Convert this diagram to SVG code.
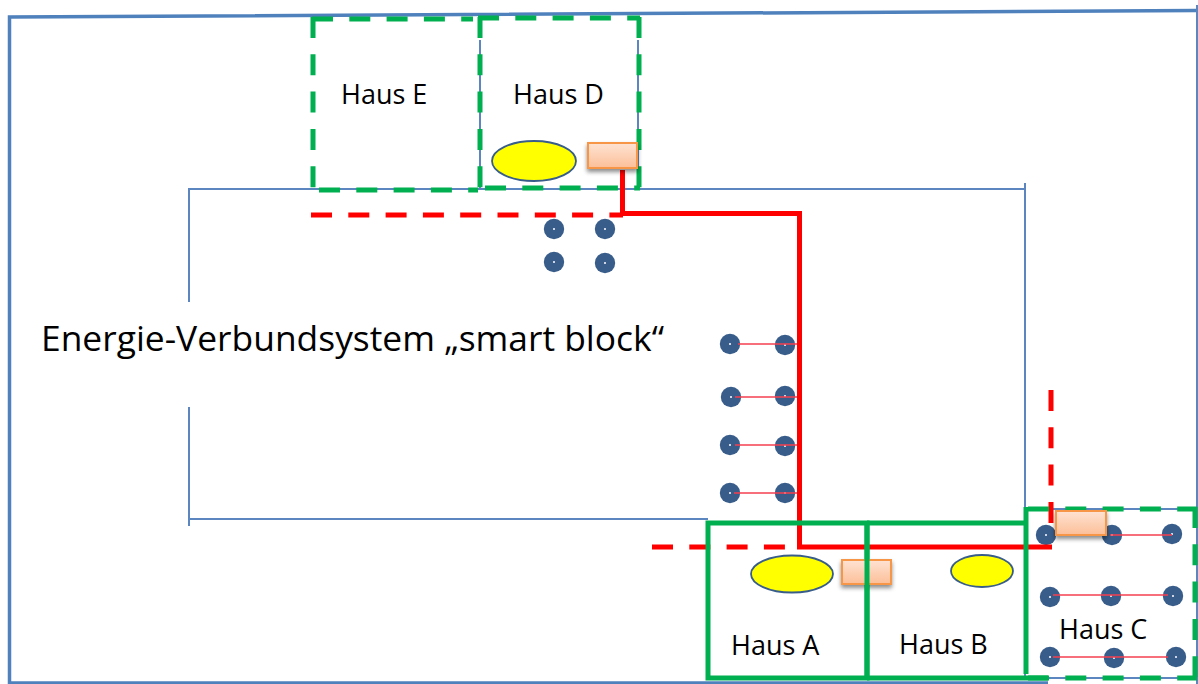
<svg xmlns="http://www.w3.org/2000/svg" width="1198" height="684" viewBox="0 0 1198 684">
<style>
text{font-family:"Open Sans","Noto Sans","Liberation Sans",sans-serif;fill:#000}
.lbl{font-size:27px}
.title{font-size:35.4px}
.outer{fill:none;stroke:#4f81bd;stroke-width:3.500}
.thin{fill:none;stroke:#5b86c0;stroke-width:2}
.gd{fill:none;stroke:#00b050;stroke-width:5;stroke-dasharray:21 16.3}
.gs{fill:none;stroke:#00b050;stroke-width:5}
.rs{fill:none;stroke:#ff0000;stroke-width:5}
.rd{fill:none;stroke:#ff0000;stroke-width:5;stroke-dasharray:21 16.3}
.rt{stroke:#f5404f;stroke-width:1.500}
.dot{fill:#385d8a}
.pin{fill:#fff}
.el{fill:#ffff00;stroke:#385d8a;stroke-width:1.800}
.box{fill:url(#og);stroke:#f79646;stroke-width:2;filter:url(#sh)}
</style>
<defs>
<linearGradient id="og" x1="0" y1="0" x2="0" y2="1"><stop offset="0" stop-color="#fee3d3"/><stop offset="1" stop-color="#fcbf98"/></linearGradient>
<filter id="sh" x="-20%" y="-30%" width="140%" height="170%"><feDropShadow dx="0" dy="3" stdDeviation="2" flood-color="#000" flood-opacity=".45"/></filter>
<g id="d"><circle class="dot" r="10.200"/><circle class="pin" r="1"/></g>
</defs>
<g id="frame">
<path class="outer" d="M9.500 684V17L1197 10.500"/>
<path class="outer" d="M9 683H1048"/>
<path class="thin" d="M1197 5V684"/>
</g>
<g id="block">
<path class="thin" d="M189 302V189H1025"/>
<path class="thin" d="M189 407V526M189 519H708"/>
<path class="thin" d="M1025 183V676"/>
<path class="thin" d="M480 40V188M638 40V188"/>
<path class="thin" d="M1026 509H1196M1026 678H1196"/>
</g>
<g id="dots">
<use href="#d" x="554" y="229"/><use href="#d" x="605" y="229"/><use href="#d" x="554" y="262"/><use href="#d" x="605" y="263"/>
<use href="#d" x="730" y="344"/><use href="#d" x="785" y="345"/><use href="#d" x="731" y="397"/><use href="#d" x="785" y="396"/>
<use href="#d" x="730" y="445"/><use href="#d" x="785" y="446"/><use href="#d" x="730" y="493"/><use href="#d" x="785" y="493"/>
<use href="#d" x="1046" y="535"/><use href="#d" x="1112" y="535"/><use href="#d" x="1172" y="534"/>
<use href="#d" x="1050" y="597"/><use href="#d" x="1111" y="596"/><use href="#d" x="1173" y="596"/>
<use href="#d" x="1050" y="657"/><use href="#d" x="1114" y="658"/><use href="#d" x="1176" y="657"/>
</g>
<g id="connectors">
<path class="rs" d="M622.500 170V213.500H799.500V547H1052"/>
<path class="rd" d="M311 215H623"/>
<path class="rd" d="M652 547H785"/>
<path class="rd" d="M1051 390V523"/>
<path class="rt" d="M738 344H797M735 397H797M735 445H797M734 493H797"/>
<path class="rt" d="M1110 535H1172M1053 595H1168M1053 657H1168"/>
</g>
<g id="haus-e"><path class="gd" d="M313 17V190"/><path class="gd" d="M312 19H473"/><path class="gd" d="M319 190H478"/><text class="lbl" x="341" y="104">Haus E</text></g>
<g id="haus-d"><path class="gd" d="M480 17V188"/><path class="gd" d="M478 18H640"/><path class="gd" d="M639 17V188"/><path class="gd" d="M485 188H640"/><text class="lbl" x="513" y="104">Haus D</text>
<ellipse class="el" cx="534" cy="161" rx="42" ry="20"/><rect class="box" x="588" y="143" width="49" height="25"/></g>
<g id="haus-a"><path class="gs" d="M708 523H867V678H708Z"/><text class="lbl" x="731" y="655">Haus A</text>
<ellipse class="el" cx="792" cy="574" rx="41" ry="18.500"/></g>
<g id="haus-b"><path class="gs" d="M867 523H1027M867 678H1048"/><text class="lbl" x="899" y="654">Haus B</text>
<ellipse class="el" cx="982" cy="571" rx="31" ry="16"/></g>
<g id="box-a"><rect class="box" x="842" y="560" width="49" height="24"/><path class="gs" d="M867 523V678"/></g>
<g id="haus-c"><path class="gs" d="M1026 674V507"/><path class="gd" d="M1028 509H1197"/><path class="gd" d="M1195 507V678"/><path class="gd" d="M1028 678H1197"/>
<text class="lbl" x="1059" y="639">Haus C</text></g>
<g id="box-c"><rect class="box" x="1056" y="511" width="50" height="24"/></g>
<g id="title"><text class="title" x="41" y="351">Energie-Verbundsystem „smart block“</text></g>
</svg>
